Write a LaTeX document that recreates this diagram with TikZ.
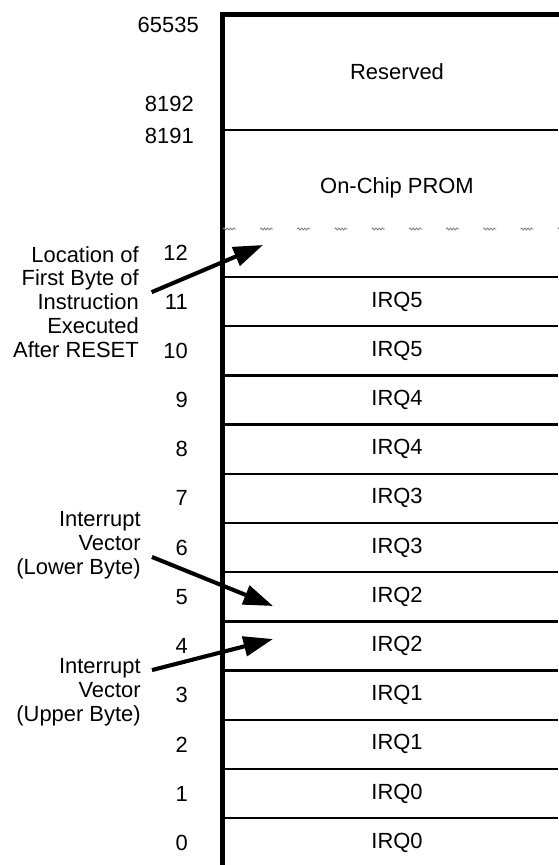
\documentclass[tikz,border=0pt]{standalone}
\usepackage{fontspec}
\setmainfont{Liberation Sans}
\usetikzlibrary{arrows.meta,decorations.pathmorphing}

\begin{document}
\begin{tikzpicture}
        [x=0.025cm, y=-0.025cm,
        every node/.style={font=\fontsize{15.6}{17}\selectfont, inner sep=0pt},
        cell/.style={},
        addr/.style={anchor=east},
        note/.style={anchor=east, align=right},
        wall/.style={line width=3.6pt, line join=miter},
        rowline/.style={line width=1.6pt},
        squiggle/.style={gray, line width=0.6pt, decorate, decoration={snake, amplitude=0.7pt, segment length=2.3pt}},
        pointer/.style={line width=2.9pt, -{Triangle[length=21pt, width=14pt]}}]
        \useasboundingbox (0,0) rectangle (558,865);

        % memory column
        \draw[wall] (222.5,870) -- (222.5,14.5) -- (562,14.5);
        \draw[rowline] (222.5,130) -- (558,130);
        \foreach \sx in {0,...,9}
            \draw[squiggle] (223+37.2*\sx,229) -- ++(13,0);
        \foreach \k in {0,...,11}
            \draw[rowline] (222.5,277+49.2*\k) -- (558,277+49.2*\k);

        \node[cell] (reserved) at (397,72) {Reserved};
        \node[cell] (prom) at (397,188) {On-Chip PROM};
        \node[cell] (irq5b) at (397,301.6) {IRQ5};
        \node[cell] (irq5a) at (397,350.8) {IRQ5};
        \node[cell] (irq4b) at (397,400) {IRQ4};
        \node[cell] (irq4a) at (397,449.2) {IRQ4};
        \node[cell] (irq3b) at (397,498.4) {IRQ3};
        \node[cell] (irq3a) at (397,547.6) {IRQ3};
        \node[cell] (irq2b) at (397,596.8) {IRQ2};
        \node[cell] (irq2a) at (397,646) {IRQ2};
        \node[cell] (irq1b) at (397,695.2) {IRQ1};
        \node[cell] (irq1a) at (397,744.4) {IRQ1};
        \node[cell] (irq0b) at (397,793.6) {IRQ0};
        \node[cell] (irq0a) at (397,842.8) {IRQ0};

        % addresses
        \node[addr] (a65535) at (199,25) {65535};
        \node[addr] (a8192) at (194,104) {8192};
        \node[addr] (a8191) at (194,136) {8191};
        \node[addr] (a12) at (188,253) {12};
        \node[addr] (a11) at (188,301.6) {11};
        \node[addr] (a10) at (188,350.8) {10};
        \node[addr] (a9) at (188,400) {9};
        \node[addr] (a8) at (188,449.2) {8};
        \node[addr] (a7) at (188,498.4) {7};
        \node[addr] (a6) at (188,547.6) {6};
        \node[addr] (a5) at (188,596.8) {5};
        \node[addr] (a4) at (188,646) {4};
        \node[addr] (a3) at (188,695.2) {3};
        \node[addr] (a2) at (188,744.4) {2};
        \node[addr] (a1) at (188,793.6) {1};
        \node[addr] (a0) at (188,842.8) {0};

        % notes
        \node[note] (reset) at (139,302) {Location of\\First Byte of\\Instruction\\Executed\\After RESET};
        \node[note] (lower) at (141,545) {Interrupt\\Vector\\(Lower Byte)};
        \node[note] (upper) at (141,692) {Interrupt\\Vector\\(Upper Byte)};

        \coordinate (resetTip) at (263,245);
        \coordinate (lowerTip) at (273,606);
        \coordinate (upperTip) at (273,639);

        \draw[pointer] ([xshift=9pt, yshift=7pt]reset.east) -- (resetTip);
        \draw[pointer] ([xshift=7.8pt, yshift=-8.5pt]lower.east) -- (lowerTip);
        \draw[pointer] ([xshift=7.8pt, yshift=15.6pt]upper.east) -- (upperTip);
\end{tikzpicture}
\end{document}
